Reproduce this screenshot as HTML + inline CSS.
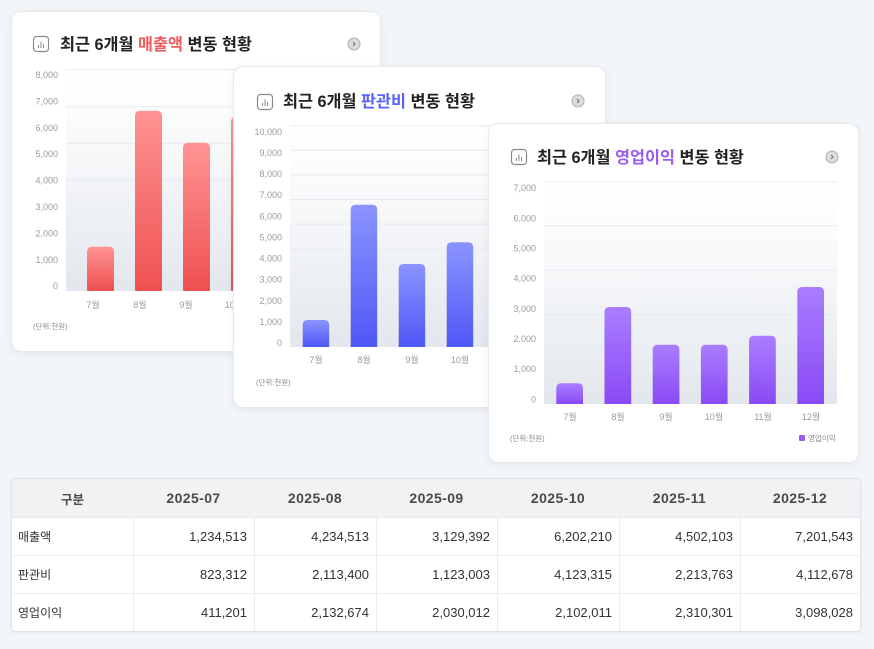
<!DOCTYPE html>
<html><head><meta charset="utf-8">
<style>
html,body{margin:0;padding:0;}
body{width:874px;height:649px;background:#f3f6f9;position:relative;overflow:hidden;font-family:"Liberation Sans","Noto Sans CJK KR",sans-serif;}
.card{position:absolute;background:#fff;border:1px solid #e6e9ee;border-radius:10px;box-shadow:0 2px 8px rgba(30,40,60,0.07);box-sizing:border-box;overflow:hidden;}
.card svg{position:absolute;left:-1px;top:-1px;}
svg text{font-family:"Liberation Sans","Noto Sans CJK KR",sans-serif;}
.yl{font-size:9px;fill:#9b9b9b;text-anchor:end;}
.xl{font-size:9px;fill:#9b9b9b;text-anchor:middle;}
.unit{font-size:7.5px;fill:#8a8a8a;}
.ttl{font-size:16.3px;font-weight:bold;fill:#222;}
table{position:absolute;left:11px;top:478px;width:848px;height:154px;border-collapse:separate;border-spacing:0;table-layout:fixed;border:1px solid #dfe2e6;border-radius:4px;background:#fff;box-shadow:0 1px 3px rgba(0,0,0,0.05);font-size:13px;color:#333;overflow:hidden;}
th{background:#f1f2f4;font-weight:bold;color:#4a4a4a;height:38px;text-align:center;border-bottom:1px solid #e6e8eb;padding:0;font-size:14px;letter-spacing:0.4px;}
th.k{font-size:12.5px;letter-spacing:0;}
td{height:37px;text-align:right;padding:0 7px 0 0;border-left:1px solid #ececee;border-bottom:1px solid #ececee;}
td:first-child{text-align:left;padding-left:6px;border-left:none;font-size:12px;}
tr:last-child td{border-bottom:none;}
</style></head><body>

<!-- Card 1 -->
<div class="card" style="left:11px;top:11px;width:370px;height:341px;">
<svg width="370" height="341" viewBox="0 0 370 341">
<defs>
<linearGradient id="bg1" x1="0" y1="0" x2="0" y2="1"><stop offset="0" stop-color="#ffffff"/><stop offset="0.25" stop-color="#fafbfc"/><stop offset="1" stop-color="#e3e7ed"/></linearGradient>
<linearGradient id="red" x1="0" y1="0" x2="0" y2="1"><stop offset="0" stop-color="#ff9494"/><stop offset="1" stop-color="#ef5050"/></linearGradient>
</defs>
<rect x="22.5" y="25.5" width="15" height="15" rx="3" fill="none" stroke="#8a8a8a" stroke-width="1.2"/>
<path d="M27.5,37V34M30,37V30.5M32.5,37V33" stroke="#8a8a8a" stroke-width="1"/>
<text class="ttl" x="49" y="39">최근 6개월 <tspan fill="#f25a5a">매출액</tspan> 변동 현황</text>
<circle cx="343" cy="33" r="6" fill="#dcdcdc" stroke="#b0b0b0" stroke-width="1"/>
<path d="M342,31L344,33L342,35" fill="none" stroke="#666" stroke-width="0.9"/>
<rect x="55" y="58" width="315" height="222" fill="url(#bg1)"/>
<g stroke="#e8ebef" stroke-width="1">
<line x1="55" x2="370" y1="58.5" y2="58.5"/><line x1="55" x2="370" y1="95.7" y2="95.7"/><line x1="55" x2="370" y1="132.3" y2="132.3"/><line x1="55" x2="370" y1="169" y2="169"/><line x1="55" x2="370" y1="206" y2="206"/><line x1="55" x2="370" y1="243" y2="243"/>
</g>
<text class="yl" x="47" y="67">8,000</text><text class="yl" x="47" y="93.4">7,000</text><text class="yl" x="47" y="119.8">6,000</text><text class="yl" x="47" y="146.2">5,000</text><text class="yl" x="47" y="172.6">4,000</text><text class="yl" x="47" y="199">3,000</text><text class="yl" x="47" y="225.4">2,000</text><text class="yl" x="47" y="251.8">1,000</text><text class="yl" x="47" y="278.2">0</text>
<path d="M76,280V240.7Q76,235.7 81,235.7H98Q103,235.7 103,240.7V280Z" fill="url(#red)"/>
<path d="M124,280V104.7Q124,99.7 129,99.7H146Q151,99.7 151,104.7V280Z" fill="url(#red)"/>
<path d="M172,280V136.7Q172,131.7 177,131.7H194Q199,131.7 199,136.7V280Z" fill="url(#red)"/>
<path d="M220,280V110.7Q220,105.7 225,105.7H242Q247,105.7 247,110.7V280Z" fill="url(#red)"/>
<path d="M268,280V160Q268,155 273,155H290Q295,155 295,160V280Z" fill="url(#red)"/>
<path d="M316,280V85Q316,80 321,80H338Q343,80 343,85V280Z" fill="url(#red)"/>
<text class="xl" x="82" y="297">7월</text><text class="xl" x="129" y="297">8월</text><text class="xl" x="175" y="297">9월</text><text class="xl" x="223" y="297">10월</text>
<text class="unit" x="22" y="318">(단위:천원)</text>
</svg>
</div>

<!-- Card 2 -->
<div class="card" style="left:233px;top:66px;width:373px;height:342px;">
<svg width="373" height="342" viewBox="0 0 373 342">
<defs>
<linearGradient id="bg2" x1="0" y1="0" x2="0" y2="1"><stop offset="0" stop-color="#ffffff"/><stop offset="0.25" stop-color="#fafbfc"/><stop offset="1" stop-color="#e3e7ed"/></linearGradient>
<linearGradient id="blue" x1="0" y1="0" x2="0" y2="1"><stop offset="0" stop-color="#8b94ff"/><stop offset="1" stop-color="#4f57f6"/></linearGradient>
</defs>
<rect x="24.5" y="28.5" width="15" height="15" rx="3" fill="none" stroke="#8a8a8a" stroke-width="1.2"/>
<path d="M29.5,40V37M32,40V33.5M34.5,40V36" stroke="#8a8a8a" stroke-width="1"/>
<text class="ttl" x="50" y="41">최근 6개월 <tspan fill="#5a62f5">판관비</tspan> 변동 현황</text>
<circle cx="345" cy="35" r="6" fill="#dcdcdc" stroke="#b0b0b0" stroke-width="1"/>
<path d="M344,33L346,35L344,37" fill="none" stroke="#666" stroke-width="0.9"/>
<rect x="57" y="59.7" width="316" height="221.3" fill="url(#bg2)"/>
<g stroke="#e8ebef" stroke-width="1">
<line x1="57" x2="373" y1="60" y2="60"/><line x1="57" x2="373" y1="84.3" y2="84.3"/><line x1="57" x2="373" y1="108.9" y2="108.9"/><line x1="57" x2="373" y1="133.5" y2="133.5"/><line x1="57" x2="373" y1="158.1" y2="158.1"/><line x1="57" x2="373" y1="182.7" y2="182.7"/><line x1="57" x2="373" y1="207.3" y2="207.3"/><line x1="57" x2="373" y1="231.9" y2="231.9"/><line x1="57" x2="373" y1="256.5" y2="256.5"/>
</g>
<text class="yl" x="49" y="68.8">10,000</text><text class="yl" x="49" y="89.9">9,000</text><text class="yl" x="49" y="111">8,000</text><text class="yl" x="49" y="132.2">7,000</text><text class="yl" x="49" y="153.3">6,000</text><text class="yl" x="49" y="174.4">5,000</text><text class="yl" x="49" y="195.6">4,000</text><text class="yl" x="49" y="216.7">3,000</text><text class="yl" x="49" y="237.8">2,000</text><text class="yl" x="49" y="259">1,000</text><text class="yl" x="49" y="280.1">0</text>
<path d="M69.7,281V259Q69.7,254 74.7,254H91.2Q96.2,254 96.2,259V281Z" fill="url(#blue)"/>
<path d="M117.7,281V143.7Q117.7,138.7 122.7,138.7H139.2Q144.2,138.7 144.2,143.7V281Z" fill="url(#blue)"/>
<path d="M165.7,281V203Q165.7,198 170.7,198H187.2Q192.2,198 192.2,203V281Z" fill="url(#blue)"/>
<path d="M213.7,281V181.3Q213.7,176.3 218.7,176.3H235.2Q240.2,176.3 240.2,181.3V281Z" fill="url(#blue)"/>
<path d="M261.7,281V216Q261.7,211 266.7,211H283.2Q288.2,211 288.2,216V281Z" fill="url(#blue)"/>
<text class="xl" x="83" y="297">7월</text><text class="xl" x="131" y="297">8월</text><text class="xl" x="179" y="297">9월</text><text class="xl" x="227" y="297">10월</text>
<text class="unit" x="23" y="319">(단위:천원)</text>
</svg>
</div>

<!-- Card 3 -->
<div class="card" style="left:488px;top:123px;width:371px;height:340px;">
<svg width="371" height="340" viewBox="0 0 371 340">
<defs>
<linearGradient id="bg3" x1="0" y1="0" x2="0" y2="1"><stop offset="0" stop-color="#ffffff"/><stop offset="0.25" stop-color="#fafbfc"/><stop offset="1" stop-color="#e3e7ed"/></linearGradient>
<linearGradient id="pur" x1="0" y1="0" x2="0" y2="1"><stop offset="0" stop-color="#aa7dff"/><stop offset="1" stop-color="#8a4af5"/></linearGradient>
</defs>
<rect x="23.5" y="26.5" width="15" height="15" rx="3" fill="none" stroke="#8a8a8a" stroke-width="1.2"/>
<path d="M28.5,38V35M31,38V31.5M33.5,38V34" stroke="#8a8a8a" stroke-width="1"/>
<text class="ttl" x="49" y="40">최근 6개월 <tspan fill="#9a5cf2">영업이익</tspan> 변동 현황</text>
<circle cx="344" cy="34" r="6" fill="#dcdcdc" stroke="#b0b0b0" stroke-width="1"/>
<path d="M343,32L345,34L343,36" fill="none" stroke="#666" stroke-width="0.9"/>
<rect x="56" y="58.3" width="293" height="222.7" fill="url(#bg3)"/>
<g stroke="#e8ebef" stroke-width="1">
<line x1="56" x2="349" y1="58.8" y2="58.8"/><line x1="56" x2="349" y1="102.8" y2="102.8"/><line x1="56" x2="349" y1="147.3" y2="147.3"/><line x1="56" x2="349" y1="191.8" y2="191.8"/><line x1="56" x2="349" y1="236.3" y2="236.3"/>
</g>
<text class="yl" x="48" y="68.1">7,000</text><text class="yl" x="48" y="98.3">6,000</text><text class="yl" x="48" y="128.4">5,000</text><text class="yl" x="48" y="158.6">4,000</text><text class="yl" x="48" y="188.8">3,000</text><text class="yl" x="48" y="219">2,000</text><text class="yl" x="48" y="249.1">1,000</text><text class="yl" x="48" y="279.3">0</text>
<path d="M68.3,281V265.3Q68.3,260.3 73.3,260.3H90Q95,260.3 95,265.3V281Z" fill="url(#pur)"/>
<path d="M116.5,281V189Q116.5,184 121.5,184H138.2Q143.2,184 143.2,189V281Z" fill="url(#pur)"/>
<path d="M164.7,281V226.7Q164.7,221.7 169.7,221.7H186.4Q191.4,221.7 191.4,226.7V281Z" fill="url(#pur)"/>
<path d="M212.9,281V226.7Q212.9,221.7 217.9,221.7H234.6Q239.6,221.7 239.6,226.7V281Z" fill="url(#pur)"/>
<path d="M261.1,281V217.7Q261.1,212.7 266.1,212.7H282.8Q287.8,212.7 287.8,217.7V281Z" fill="url(#pur)"/>
<path d="M309.3,281V169Q309.3,164 314.3,164H331Q336,164 336,169V281Z" fill="url(#pur)"/>
<text class="xl" x="82" y="297">7월</text><text class="xl" x="130" y="297">8월</text><text class="xl" x="178" y="297">9월</text><text class="xl" x="226" y="297">10월</text><text class="xl" x="275" y="297">11월</text><text class="xl" x="323" y="297">12월</text>
<text class="unit" x="22" y="318">(단위:천원)</text>
<rect x="311" y="312" width="6" height="6" rx="1" fill="#9a5cf2"/>
<text class="unit" x="320" y="318">영업이익</text>
</svg>
</div>

<table>
<colgroup><col style="width:121px"><col style="width:121px"><col style="width:122px"><col style="width:121px"><col style="width:122px"><col style="width:121px"><col style="width:120px"></colgroup>
<tr><th class="k">구분</th><th>2025-07</th><th>2025-08</th><th>2025-09</th><th>2025-10</th><th>2025-11</th><th>2025-12</th></tr>
<tr><td>매출액</td><td>1,234,513</td><td>4,234,513</td><td>3,129,392</td><td>6,202,210</td><td>4,502,103</td><td>7,201,543</td></tr>
<tr><td>판관비</td><td>823,312</td><td>2,113,400</td><td>1,123,003</td><td>4,123,315</td><td>2,213,763</td><td>4,112,678</td></tr>
<tr><td>영업이익</td><td>411,201</td><td>2,132,674</td><td>2,030,012</td><td>2,102,011</td><td>2,310,301</td><td>3,098,028</td></tr>
</table>

</body></html>
